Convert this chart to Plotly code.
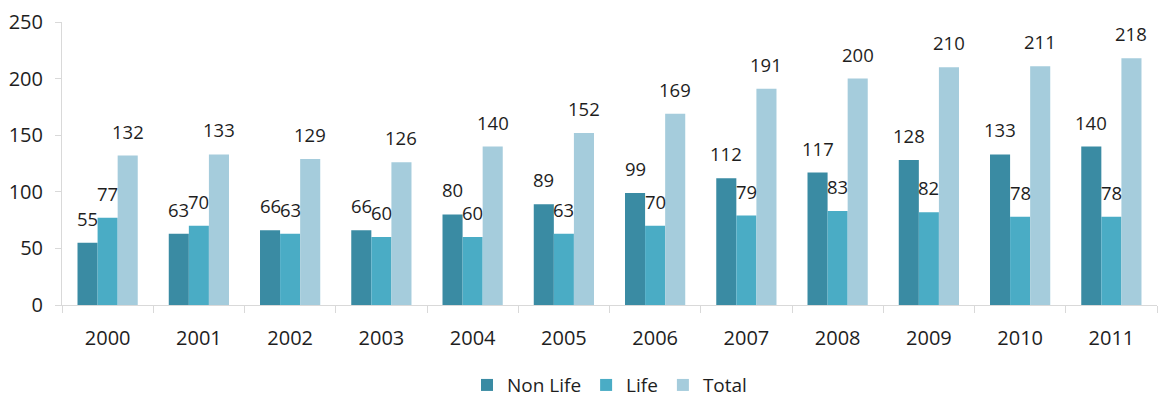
import plotly.graph_objects as go

years = ["2000", "2001", "2002", "2003", "2004", "2005",
         "2006", "2007", "2008", "2009", "2010", "2011"]
non_life = [55, 63, 66, 66, 80, 89, 99, 112, 117, 128, 133, 140]
life = [77, 70, 63, 60, 60, 63, 70, 79, 83, 82, 78, 78]
total = [132, 133, 129, 126, 140, 152, 169, 191, 200, 210, 211, 218]

series = [
    ("Non Life", non_life, "#3A8BA3"),
    ("Life", life, "#4AACC5"),
    ("Total", total, "#A5CCDC"),
]

bargap = 0.34
bar_w = (1 - bargap) / len(series)
font_family = "Open Sans, DejaVu Sans, sans-serif"
text_color = "#1E1E1E"

fig = go.Figure()
annotations = []
for k, (name, vals, color) in enumerate(series):
    fig.add_trace(go.Bar(name=name, x=years, y=vals, marker_color=color,
                         marker_line_width=0))
    offset = (k - (len(series) - 1) / 2) * bar_w
    for i, v in enumerate(vals):
        annotations.append(dict(
            x=i + offset, y=v, xref="x", yref="y", text=str(v),
            showarrow=False, yanchor="bottom", yshift=10,
            font=dict(size=18.5, color=text_color, family=font_family),
        ))

fig.update_layout(
    barmode="group",
    bargap=bargap,
    bargroupgap=0,
    width=1158,
    height=397,
    margin=dict(l=62, r=1, t=22, b=92, autoexpand=False),
    plot_bgcolor="white",
    paper_bgcolor="white",
    font=dict(family=font_family, size=20, color=text_color),
    annotations=annotations,
    legend=dict(orientation="h", x=0.5, xanchor="center",
                yref="container", y=0.03, yanchor="middle",
                font=dict(size=19, color=text_color),
                itemwidth=30, traceorder="normal"),
    xaxis=dict(
        type="category", showgrid=False, showline=True, linecolor="#D9D9D9",
        linewidth=1, ticks="outside", tickson="boundaries", ticklen=7,
        tickcolor="#D9D9D9", tickfont=dict(size=20, color=text_color),
        ticklabelstandoff=15, automargin=False,
    ),
    yaxis=dict(
        range=[0, 250], dtick=50, showgrid=False, zeroline=False,
        showline=True, linecolor="#D9D9D9", linewidth=1, ticks="outside",
        ticklen=6, tickcolor="#D9D9D9", tickfont=dict(size=20, color=text_color),
        ticklabelstandoff=8, automargin=False,
    ),
)

fig.write_html("out.html")
